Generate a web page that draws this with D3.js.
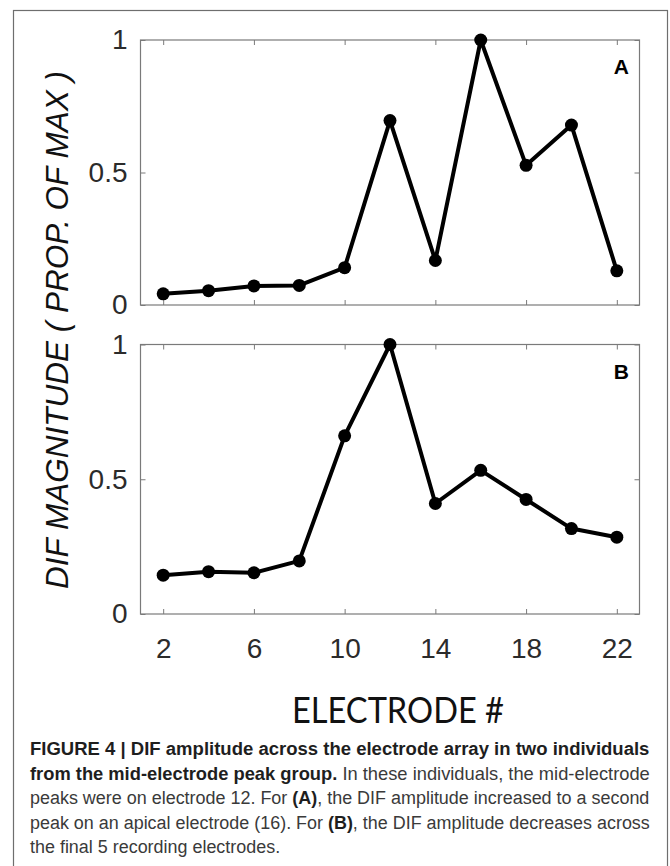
<!DOCTYPE html>
<html lang="en">
	<head>
		<meta charset="utf-8">
		<title>DIF amplitude</title>
		<script type="text/javascript" src="https://cdn.jsdelivr.net/npm/d3@7"></script>
		<style type="text/css">
			body { margin: 0; background: #fff; }
			.axis path { display: none; }
			.axis line { stroke: #7a7a7a; stroke-width: 1; }
			.axis text { font-family: "Liberation Sans", Arial, sans-serif; font-size: 28px; fill: #2b2b2b; }
		</style>
	</head>
	<body>
		<script type="text/javascript">

			//Width and height
			var w = 670;
			var h = 866;

			//Data
			var electrodes = [2, 4, 6, 8, 10, 12, 14, 16, 18, 20, 22];
			var ampA = [0.042, 0.054, 0.072, 0.074, 0.141, 0.696, 0.168, 1.0, 0.527, 0.679, 0.129];
			var ampB = [0.144, 0.157, 0.153, 0.197, 0.661, 1.0, 0.410, 0.533, 0.425, 0.317, 0.285];
			var panelNames = ["A", "B"];
			var xTicks = [2, 6, 10, 14, 18, 22];
			var yTicks = [0, 0.5, 1];
			var yTitle = "DIF MAGNITUDE  ( PROP. OF MAX )";
			var xTitle = "ELECTRODE #";

			//caption lines, as [text, bold] pieces
			var caption = [
				[["FIGURE 4 | DIF amplitude across the electrode array in two individuals", true]],
				[["from the mid-electrode peak group.", true], [" In these individuals, the mid-electrode", false]],
				[["peaks were on electrode 12. For ", false], ["(A)", true], [", the DIF amplitude increased to a second", false]],
				[["peak on an apical electrode (16). For ", false], ["(B)", true], [", the DIF amplitude decreases across", false]],
				[["the final 5 recording electrodes.", false]]
			];

			var svg = d3.select("body")
						.append("svg")
						.attr("width", w)
						.attr("height", h);

			//outer frame
			svg.append("rect")
				.attr("x", 13.5)
				.attr("y", 10.5)
				.attr("width", 654)
				.attr("height", 870)
				.attr("fill", "none")
				.attr("stroke", "#6e6e6e")
				.attr("stroke-width", 1.2);

			var xScale = d3.scaleLinear()
				.domain([1, 23])
				.range([140.5, 639.5]);

			var panels = [
				{ name: panelNames[0], values: ampA, top: 40, bottom: 305, labels: false },
				{ name: panelNames[1], values: ampB, top: 344.5, bottom: 614, labels: true }
			];

			panels.forEach(function(p) {
				var yScale = d3.scaleLinear()
					.domain([0, 1])
					.range([p.bottom, p.top]);

				var g = svg.append("g");

				var xAxis = d3.axisBottom(xScale)
					.tickValues(xTicks)
					.tickSizeInner(-5)
					.tickSizeOuter(0)
					.tickPadding(24);
				if (!p.labels) xAxis.tickFormat("");

				g.append("g")
					.attr("class", "axis")
					.attr("transform", "translate(0," + p.bottom + ")")
					.call(xAxis);

				g.append("g")
					.attr("class", "axis")
					.attr("transform", "translate(0," + p.top + ")")
					.call(d3.axisTop(xScale).tickValues(xTicks).tickSizeInner(-5).tickSizeOuter(0).tickFormat(""));

				g.append("g")
					.attr("class", "axis")
					.attr("transform", "translate(" + xScale.range()[0] + ",0)")
					.call(d3.axisLeft(yScale).tickValues(yTicks).tickSizeInner(-5).tickSizeOuter(0).tickPadding(13)
						.tickFormat(function(d) { return d === 0.5 ? "0.5" : d; }));

				g.append("g")
					.attr("class", "axis")
					.attr("transform", "translate(" + xScale.range()[1] + ",0)")
					.call(d3.axisRight(yScale).tickValues(yTicks).tickSizeInner(-5).tickSizeOuter(0).tickFormat(""));

				//box
				g.append("rect")
					.attr("x", xScale.range()[0])
					.attr("y", p.top)
					.attr("width", xScale.range()[1] - xScale.range()[0])
					.attr("height", p.bottom - p.top)
					.attr("fill", "none")
					.attr("stroke", "#7a7a7a")
					.attr("stroke-width", 1.2);

				var pts = electrodes.map(function(e, i) { return [e, p.values[i]]; });

				var line = d3.line()
					.x(function(d) { return xScale(d[0]); })
					.y(function(d) { return yScale(d[1]); });

				g.append("path")
					.datum(pts)
					.attr("d", line)
					.attr("fill", "none")
					.attr("stroke", "#000")
					.attr("stroke-width", 4)
					.attr("stroke-linejoin", "round");

				g.selectAll("circle")
					.data(pts)
					.enter()
					.append("circle")
					.attr("cx", function(d) { return xScale(d[0]); })
					.attr("cy", function(d) { return yScale(d[1]); })
					.attr("r", 6.5)
					.attr("fill", "#000");

				g.append("text")
					.attr("x", xScale(22.2))
					.attr("y", yScale(0.9))
					.attr("dy", "0.36em")
					.attr("text-anchor", "middle")
					.style("font-family", "'Liberation Sans', Arial, sans-serif")
					.style("font-weight", "bold")
					.style("font-size", "21px")
					.text(p.name);
			});

			//y title
			svg.append("text")
				.attr("transform", "translate(68,330) rotate(-90)")
				.attr("text-anchor", "middle")
				.style("font-family", "'Liberation Sans', Arial, sans-serif")
				.style("font-style", "italic")
				.style("font-size", "31.5px")
				.style("fill", "#111")
				.text(yTitle);

			//x title
			svg.append("text")
				.attr("x", 398)
				.attr("y", 723)
				.attr("text-anchor", "middle")
				.attr("textLength", 212)
				.attr("lengthAdjust", "spacingAndGlyphs")
				.style("font-family", "Lato, 'Open Sans', sans-serif")
				.style("font-size", "37px")
				.style("fill", "#111")
				.text(xTitle);

			//caption, justified by squeezing each line to the column width
			var capLeft = 30, capRight = 650, capTop = 755, capStep = 24.6;
			var squeeze = 1;
			caption.forEach(function(parts, i) {
				var t = svg.append("text")
					.attr("x", 0)
					.attr("y", 0)
					.style("font-family", "'Liberation Sans', Arial, sans-serif")
					.style("font-size", "19px")
					.style("fill", "#3a3a3a");
				parts.forEach(function(part) {
					t.append("tspan")
						.style("font-weight", part[1] ? "bold" : "normal")
						.style("fill", part[1] ? "#1e1e1e" : "#3a3a3a")
						.text(part[0]);
				});
				var natural = t.node().getComputedTextLength();
				if (i < caption.length - 1) squeeze = (capRight - capLeft) / natural;
				t.attr("transform", "translate(" + capLeft + "," + (capTop + i * capStep) + ") scale(" + squeeze + ",1)");
			});

		</script>
	</body>
</html>
